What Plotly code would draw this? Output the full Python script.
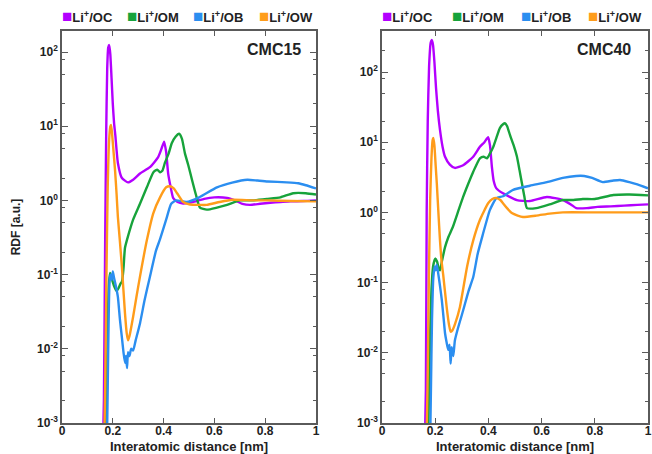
import plotly.graph_objects as go

# ---------------- data ----------------
series_names = ["Li<sup>+</sup>/OC", "Li<sup>+</sup>/OM", "Li<sup>+</sup>/OB", "Li<sup>+</sup>/OW"]
colors = ["#b300ff", "#17a33b", "#2b8ef0", "#ff9c1a"]
panel_labels = ["CMC15", "CMC40"]
x_title = "Interatomic distance [nm]"
y_title = "RDF [a.u.]"

# CMC15
c15_oc_x = [0.160, 0.165, 0.170, 0.174, 0.178, 0.182, 0.186, 0.190, 0.195, 0.200, 0.205, 0.210, 0.220, 0.236,
            0.260, 0.280, 0.307, 0.346, 0.378, 0.392, 0.402, 0.410, 0.418, 0.428, 0.438, 0.455, 0.477, 0.500,
            0.530, 0.560, 0.600, 0.650, 0.680, 0.710, 0.740, 0.780, 0.820, 0.860, 0.900, 0.950, 1.000]
c15_oc_y = [0.0003, 0.002, 0.3, 8, 60, 115, 124, 95, 45, 20, 11, 7.5, 3.2, 2.0,
            1.75, 1.9, 2.3, 2.8, 3.8, 5.0, 6.2, 4.5, 2.3, 1.5, 1.07, 0.95, 0.91, 0.93,
            0.98, 1.05, 1.1, 1.08, 1.0, 0.9, 0.87, 0.9, 0.93, 0.95, 0.97, 0.98, 1.0]

c15_om_x = [0.170, 0.176, 0.180, 0.184, 0.189, 0.195, 0.205, 0.215, 0.222, 0.230, 0.236, 0.242, 0.248, 0.260,
            0.280, 0.307, 0.334, 0.360, 0.375, 0.386, 0.395, 0.405, 0.420, 0.432, 0.447, 0.461, 0.472, 0.484,
            0.497, 0.510, 0.527, 0.543, 0.570, 0.610, 0.650, 0.700, 0.750, 0.810, 0.860, 0.910, 0.960, 1.000]
c15_om_y = [0.0003, 0.003, 0.02, 0.07, 0.105, 0.09, 0.07, 0.06, 0.065, 0.075, 0.08, 0.12, 0.23, 0.33,
            0.55, 0.9, 1.5, 2.4, 2.6, 2.4, 2.5, 3.2, 4.3, 5.9, 7.2, 7.9, 6.8, 4.3,
            3.0, 2.0, 1.2, 0.8, 0.75, 0.8, 0.87, 1.0, 1.0, 1.05, 1.1, 1.25, 1.25, 1.2]

c15_ob_x = [0.176, 0.180, 0.184, 0.188, 0.192, 0.196, 0.200, 0.205, 0.212, 0.220, 0.228, 0.236, 0.242, 0.248,
            0.252, 0.256, 0.260, 0.266, 0.272, 0.280, 0.290, 0.307, 0.325, 0.346, 0.370, 0.386, 0.410, 0.430,
            0.450, 0.490, 0.540, 0.610, 0.670, 0.730, 0.770, 0.810, 0.885, 0.930, 0.960, 1.000]
c15_ob_y = [0.0003, 0.003, 0.03, 0.09, 0.1, 0.085, 0.11, 0.09, 0.07, 0.05, 0.025, 0.014, 0.009, 0.0065,
            0.008, 0.0055, 0.009, 0.008, 0.01, 0.0095, 0.013, 0.022, 0.045, 0.093, 0.21, 0.3, 0.55, 0.9,
            1.0, 0.95, 1.1, 1.5, 1.74, 1.9, 1.85, 1.8, 1.75, 1.7, 1.6, 1.45]

c15_ow_x = [0.165, 0.170, 0.175, 0.180, 0.185, 0.190, 0.193, 0.197, 0.203, 0.209, 0.215, 0.220, 0.228, 0.236,
            0.248, 0.255, 0.260, 0.266, 0.280, 0.293, 0.307, 0.334, 0.360, 0.386, 0.410, 0.425, 0.440, 0.453,
            0.477, 0.504, 0.540, 0.570, 0.620, 0.670, 0.750, 0.810, 0.900, 1.000]
c15_ow_y = [0.0003, 0.003, 0.1, 1.5, 6, 9.8, 10.4, 8, 4.5, 2.5, 1.2, 0.6, 0.28, 0.125,
            0.03, 0.016, 0.013, 0.015, 0.027, 0.05, 0.094, 0.29, 0.68, 1.1, 1.5, 1.55, 1.45, 1.25,
            0.95, 0.88, 0.87, 0.87, 0.95, 1.02, 1.0, 1.0, 0.98, 0.97]

# CMC40
c40_oc_x = [0.160, 0.165, 0.168, 0.172, 0.177, 0.183, 0.188, 0.192, 0.197, 0.203, 0.210, 0.218, 0.228, 0.237,
            0.255, 0.274, 0.305, 0.343, 0.368, 0.385, 0.399, 0.406, 0.413, 0.420, 0.430, 0.455, 0.507, 0.556,
            0.620, 0.680, 0.710, 0.730, 0.770, 0.810, 0.860, 0.910, 0.960, 1.000]
c40_oc_y = [0.0003, 0.003, 1, 20, 120, 260, 285, 240, 140, 60, 28, 15, 8.5, 6.2,
            4.8, 4.3, 4.7, 6.2, 8.6, 10, 11.8, 9, 4.5, 2.8, 2.2, 1.87, 1.5, 1.45,
            1.66, 1.5, 1.3, 1.15, 1.15, 1.2, 1.22, 1.25, 1.28, 1.3]

c40_om_x = [0.172, 0.177, 0.181, 0.186, 0.192, 0.200, 0.207, 0.213, 0.218, 0.225, 0.237, 0.250, 0.267, 0.285,
            0.305, 0.325, 0.343, 0.368, 0.382, 0.395, 0.405, 0.418, 0.430, 0.443, 0.455, 0.462, 0.470, 0.481,
            0.495, 0.507, 0.517, 0.526, 0.535, 0.545, 0.580, 0.630, 0.680, 0.720, 0.755, 0.800, 0.870, 0.930, 1.000]
c40_om_y = [0.0003, 0.003, 0.02, 0.08, 0.17, 0.22, 0.2, 0.16, 0.15, 0.2, 0.32, 0.45, 0.63, 1.0,
            1.66, 2.6, 3.8, 5.9, 6.2, 5.9, 6.8, 8.5, 11.5, 15.9, 18.0, 18.6, 17, 12.7,
            9, 6.3, 4, 2.6, 1.7, 1.15, 1.15, 1.3, 1.5, 1.5, 1.55, 1.55, 1.77, 1.8, 1.75]

c40_ob_x = [0.180, 0.184, 0.188, 0.193, 0.198, 0.202, 0.206, 0.212, 0.218, 0.225, 0.232, 0.237, 0.243, 0.249,
            0.254, 0.258, 0.262, 0.268, 0.274, 0.285, 0.305, 0.325, 0.343, 0.360, 0.380, 0.395, 0.405, 0.430,
            0.455, 0.493, 0.556, 0.620, 0.680, 0.730, 0.760, 0.790, 0.830, 0.870, 0.895, 0.930, 0.960, 1.000]
c40_ob_y = [0.0003, 0.003, 0.03, 0.12, 0.17, 0.15, 0.18, 0.13, 0.09, 0.056, 0.03, 0.019, 0.014, 0.011,
            0.013, 0.007, 0.012, 0.009, 0.015, 0.022, 0.04, 0.075, 0.12, 0.26, 0.5, 0.8, 1.07, 1.6,
            1.7, 2.1, 2.4, 2.7, 3.1, 3.3, 3.3, 3.1, 2.7, 2.85, 2.9, 2.7, 2.5, 2.2]

c40_ow_x = [0.166, 0.171, 0.176, 0.181, 0.186, 0.190, 0.193, 0.197, 0.202, 0.206, 0.212, 0.218, 0.224, 0.230,
            0.243, 0.252, 0.258, 0.265, 0.275, 0.293, 0.320, 0.343, 0.368, 0.399, 0.415, 0.430, 0.445, 0.455,
            0.470, 0.488, 0.510, 0.530, 0.580, 0.630, 0.680, 0.800, 0.900, 1.000]
c40_ow_y = [0.0003, 0.003, 0.1, 1.5, 6, 10.5, 11.5, 9, 4.5, 2.6, 1.0, 0.4, 0.2, 0.13,
            0.045, 0.025, 0.02, 0.021, 0.026, 0.045, 0.17, 0.4, 0.78, 1.35, 1.55, 1.6, 1.5, 1.35,
            1.15, 0.98, 0.9, 0.86, 0.9, 0.96, 1.0, 1.0, 1.0, 1.0]

x_ticks = [0, 0.2, 0.4, 0.6, 0.8, 1]
x_tick_text = ["0", "0.2", "0.4", "0.6", "0.8", "1"]
y_ticks = [1e-3, 1e-2, 1e-1, 1e0, 1e1, 1e2]
y_tick_text = ["10<sup>-3</sup>", "10<sup>-2</sup>", "10<sup>-1</sup>", "10<sup>0</sup>",
               "10<sup>1</sup>", "10<sup>2</sup>"]
y_minor = [m * 10 ** e for e in range(-3, 3) for m in (2, 5, 8)]

panels = [
    [(c15_oc_x, c15_oc_y), (c15_om_x, c15_om_y), (c15_ob_x, c15_ob_y), (c15_ow_x, c15_ow_y)],
    [(c40_oc_x, c40_oc_y), (c40_om_x, c40_om_y), (c40_ob_x, c40_ob_y), (c40_ow_x, c40_ow_y)],
]

# ---------------- figure ----------------
W, H = 652, 454
FONT = "Liberation Sans"
AXC = "#5a5a5a"
TXT = "#222"

fig = go.Figure()
axis_ids = [("x", "y"), ("x2", "y2")]
for p, data in enumerate(panels):
    xa, ya = axis_ids[p]
    for i, (xs, ys) in enumerate(data):
        fig.add_trace(go.Scatter(x=xs, y=ys, mode="lines", xaxis=xa, yaxis=ya,
                                 name=series_names[i],
                                 line=dict(color=colors[i], width=2.4, shape="spline", smoothing=0.5),
                                 showlegend=False, hoverinfo="skip"))

y_dom = [1 - 423 / H, 1 - 31 / H]
x_doms = [[62 / W, 316 / W], [382 / W, 648 / W]]
y_ranges = [[-3, 2.283], [-3, 2.584]]

tickfont = dict(family=FONT, size=12, color=TXT, weight="bold")
for p in range(2):
    sfx = "" if p == 0 else "2"
    fig.update_layout(**{
        "xaxis" + sfx: dict(domain=x_doms[p], range=[0, 1], anchor="y" + sfx, automargin=False,
                            tickmode="array", tickvals=x_ticks, ticktext=x_tick_text,
                            ticks="inside", ticklen=5, tickwidth=1.3, tickcolor=AXC,
                            ticklabelstandoff=-4,
                            showline=True, linecolor=AXC, linewidth=1.5, mirror="ticks",
                            showgrid=False, zeroline=False, tickfont=tickfont),
        "yaxis" + sfx: dict(domain=y_dom, type="log", range=y_ranges[p], anchor="x" + sfx, automargin=False,
                            tickmode="array", tickvals=y_ticks, ticktext=y_tick_text,
                            ticks="inside", ticklen=6, tickwidth=1.3, tickcolor=AXC,
                            minor=dict(tickmode="array", tickvals=y_minor, ticks="inside",
                                       ticklen=3, tickwidth=1, tickcolor=AXC, showgrid=False),
                            showline=True, linecolor=AXC, linewidth=1.5, mirror="ticks",
                            showgrid=False, zeroline=False, tickfont=tickfont),
    })

fig.update_layout(yaxis_title=dict(text=y_title, standoff=14,
                                   font=dict(family=FONT, size=12, color=TXT, weight="bold")))

# x-axis titles under each panel
for p in range(2):
    fig.add_annotation(x=sum(x_doms[p]) / 2, y=0, xref="paper", yref="paper", text=x_title,
                       showarrow=False, xanchor="center", yanchor="bottom", yshift=-1, borderpad=0,
                       font=dict(family=FONT, size=13, color=TXT, weight="bold"))

# legend rows above each panel
legend_x = [[62, 127, 193, 259], [382, 452, 521, 588]]
for p in range(2):
    for i, name in enumerate(series_names):
        fig.add_annotation(x=legend_x[p][i] / W, y=1 - 17 / H, xref="paper", yref="paper",
                           text=f"<span style='color:{colors[i]};font-size:17px'>■</span>{name}",
                           showarrow=False, xanchor="left", yanchor="middle", xshift=-2,
                           font=dict(family=FONT, size=13, color=TXT, weight="bold"))

fig.add_annotation(x=303 / W, y=1 - 49 / H, xref="paper", yref="paper", text=panel_labels[0],
                   showarrow=False, xanchor="right", yanchor="middle",
                   font=dict(family=FONT, size=16, color=TXT, weight="bold"))
fig.add_annotation(x=633 / W, y=1 - 49 / H, xref="paper", yref="paper", text=panel_labels[1],
                   showarrow=False, xanchor="right", yanchor="middle",
                   font=dict(family=FONT, size=16, color=TXT, weight="bold"))

fig.update_layout(width=W, height=H, margin=dict(l=0, r=0, t=0, b=0),
                  paper_bgcolor="white", plot_bgcolor="white", showlegend=False)

fig.write_html("out.html")
